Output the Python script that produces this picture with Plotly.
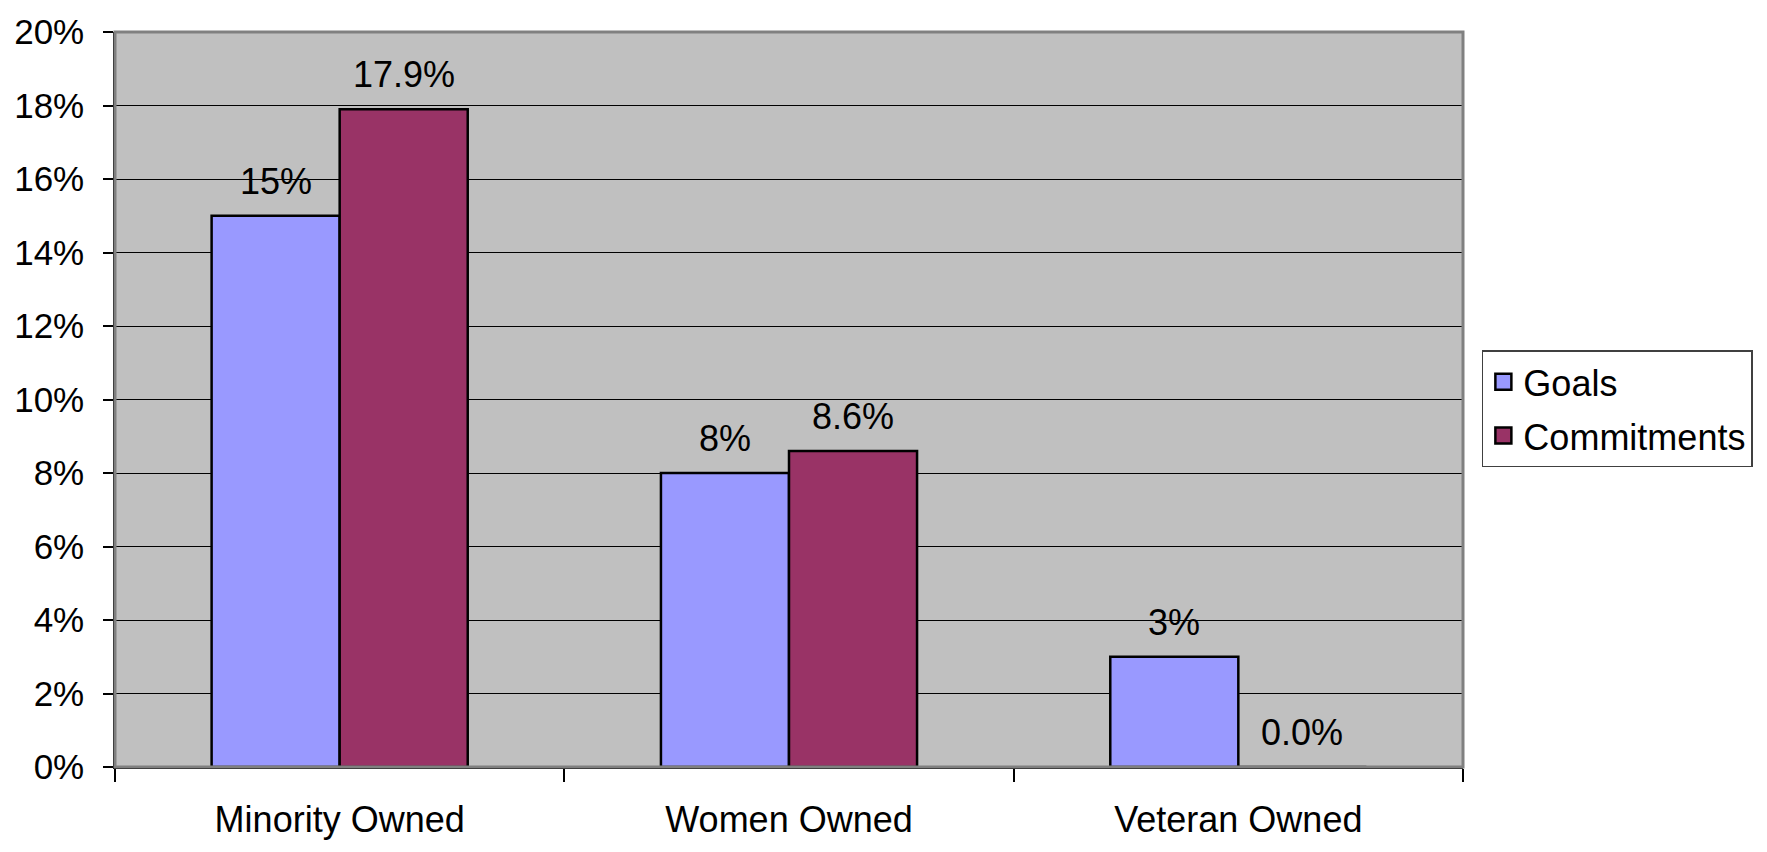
import plotly.graph_objects as go

categories = ["Minority Owned", "Women Owned", "Veteran Owned"]
goals = [15, 8, 3]
commitments = [17.9, 8.6, 0.0]
goal_labels = ["15%", "8%", "3%"]
commit_labels = ["17.9%", "8.6%", "0.0%"]
y_ticks = [0, 2, 4, 6, 8, 10, 12, 14, 16, 18, 20]

FONT = "Liberation Sans, Arial, sans-serif"
GOAL_COLOR = "#9999FF"
COMMIT_COLOR = "#993366"

fig = go.Figure()
fig.add_trace(go.Bar(
    x=categories, y=goals, name="Goals", showlegend=False,
    marker=dict(color=GOAL_COLOR, line=dict(color="#000000", width=2.5)),
))
fig.add_trace(go.Bar(
    x=categories, y=commitments, name="Commitments", showlegend=False,
    marker=dict(color=COMMIT_COLOR, line=dict(color="#000000", width=2.5)),
))
# legend entries with larger square swatches
for name, col, grp in [("Goals", GOAL_COLOR, "g1"), ("Commitments", COMMIT_COLOR, "g2")]:
    fig.add_trace(go.Scatter(
        x=[None], y=[None], mode="markers", name=name, legendgroup=grp,
        marker=dict(symbol="square", size=16, color=col, line=dict(color="#000000", width=2.5)),
    ))

for c, v, t in zip(categories, goals, goal_labels):
    fig.add_annotation(x=c, y=v, text=t, showarrow=False, xref="x", yref="y",
                       yanchor="bottom", xshift=-64, yshift=12,
                       font=dict(family=FONT, size=36, color="#000000"))
for c, v, t in zip(categories, commitments, commit_labels):
    fig.add_annotation(x=c, y=v, text=t, showarrow=False, xref="x", yref="y",
                       yanchor="bottom", xshift=64, yshift=12,
                       font=dict(family=FONT, size=36, color="#000000"))

# plot frame (gray top/right)
fig.add_shape(type="rect", xref="paper", yref="paper", x0=0, x1=1, y0=0, y1=1,
              line=dict(color="#808080", width=3), layer="above")

fig.update_layout(
    width=1767, height=852,
    margin=dict(l=115, r=304, t=23, b=72, pad=0),
    paper_bgcolor="#FFFFFF",
    plot_bgcolor="#C0C0C0",
    barmode="group",
    bargap=0.43,
    bargroupgap=0,
    font=dict(family=FONT, size=36, color="#000000"),
    showlegend=True,
    legend=dict(
        x=1.014, y=0.567, xanchor="left", yanchor="top",
        bgcolor="#FFFFFF", bordercolor="#404040", borderwidth=1.5,
        font=dict(family=FONT, size=36, color="#000000"),
        traceorder="grouped", tracegroupgap=4,
        itemwidth=30, itemsizing="trace",
    ),
    xaxis=dict(
        type="category",
        showgrid=False,
        showline=True, linecolor="#000000", linewidth=1.5,
        ticks="outside", tickson="boundaries", ticklen=13, tickcolor="#000000", tickwidth=1.5,
        tickfont=dict(family=FONT, size=36, color="#000000"),
        ticklabelstandoff=20,
    ),
    yaxis=dict(
        range=[0, 20],
        tickvals=y_ticks,
        ticktext=[f"{v}%" for v in y_ticks],
        showgrid=True, gridcolor="#000000", gridwidth=1,
        showline=True, linecolor="#000000", linewidth=1.5,
        ticks="outside", ticklen=10, tickcolor="#000000", tickwidth=1.5,
        tickfont=dict(family=FONT, size=35, color="#000000"),
        ticklabelstandoff=12,
        zeroline=False,
    ),
)

fig.write_html("out.html", config={"displayModeBar": False},
               post_script="document.body.style.margin='0px';")
